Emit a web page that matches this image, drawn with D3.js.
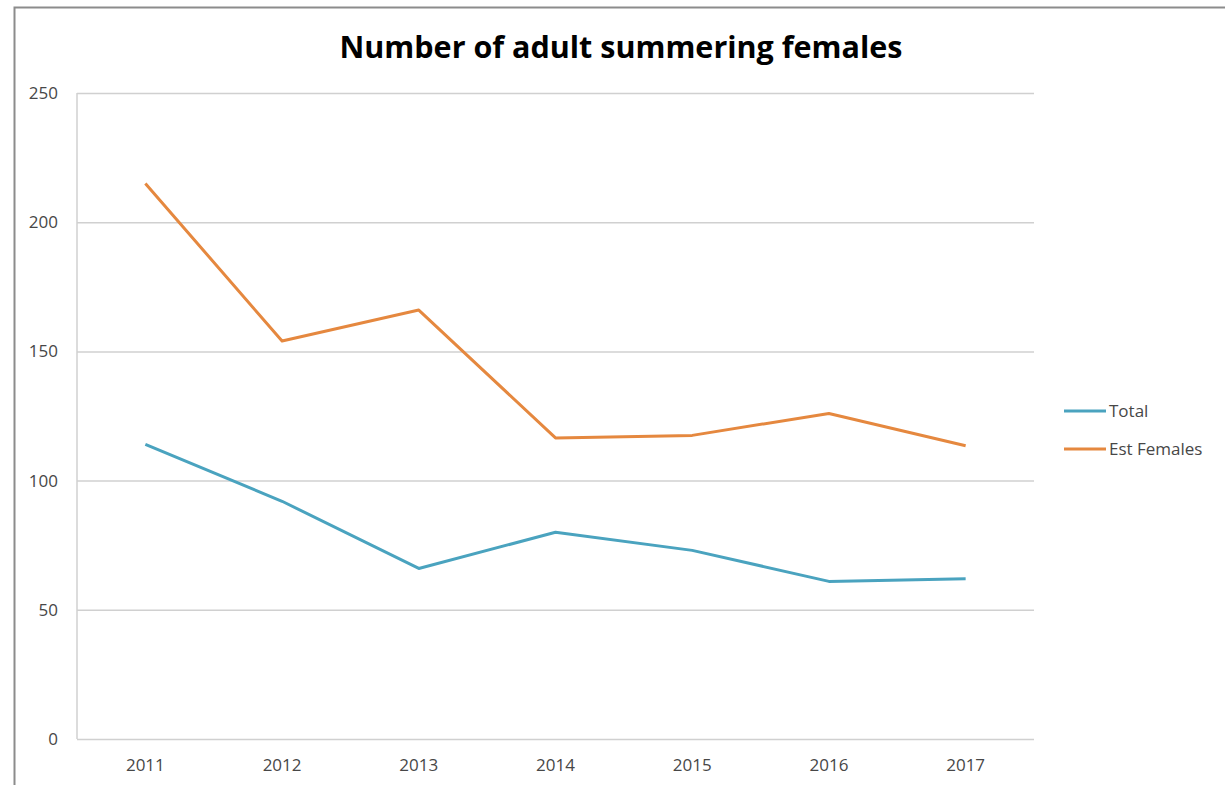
<!DOCTYPE html>
<html>
<head>
<meta charset="utf-8">
<script src="https://cdn.jsdelivr.net/npm/d3@7"></script>
<style>
  body { margin: 0; background: #fff; }
  svg { display: block; }
  text { font-family: "Open Sans", "Noto Sans", sans-serif; }
</style>
</head>
<body>
<div id="chart"></div>
<script>
const years = ['2011', '2012', '2013', '2014', '2015', '2016', '2017'];
const totalValues = [114, 92, 66, 80, 73, 61, 62];
const estFemaleValues = [215, 154, 166, 116.5, 117.5, 126, 113.5];
const yTicks = [0, 50, 100, 150, 200, 250];
const seriesNames = ['Total', 'Est Females'];

const colours = { total: '#4aa3bf', est: '#e5883f', grid: '#d0d0d0', text: '#474747' };

const width = 1225;
const height = 785;
const margin = { top: 93, right: 191, bottom: 46, left: 77 };
const plotW = width - margin.left - margin.right;
const plotH = height - margin.top - margin.bottom;

const svg = d3.select('#chart').append('svg').attr('width', width).attr('height', height);

// chart frame (right and bottom edges are cut off in the screenshot)
svg.append('path')
  .attr('d', `M14.5,${height} V7.5 H${width}`)
  .attr('fill', 'none')
  .attr('stroke', '#8c8c8c')
  .attr('stroke-width', 2);

const title = svg.append('text')
  .attr('x', 621)
  .attr('y', 58)
  .attr('text-anchor', 'middle')
  .attr('font-weight', 'bold')
  .attr('font-size', 30)
  .attr('fill', '#000')
  .text('Number of adult summering females');
const tw = title.node().getComputedTextLength();
title.attr('font-size', 30 * 563 / tw);

const g = svg.append('g').attr('transform', `translate(${margin.left},${margin.top})`);

const x = d3.scaleBand().domain(years).range([0, plotW]);
const y = d3.scaleLinear().domain([0, 250]).range([plotH, 0]);

g.append('g')
  .call(d3.axisLeft(y).tickValues(yTicks).tickSize(-plotW).tickFormat(''))
  .call((s) => s.select('.domain').remove())
  .selectAll('line')
  .attr('stroke', colours.grid)
  .attr('stroke-width', 1.5);

// left axis line
g.append('line')
  .attr('x1', 0).attr('x2', 0)
  .attr('y1', 0).attr('y2', plotH)
  .attr('stroke', colours.grid)
  .attr('stroke-width', 1.5);

g.append('g')
  .call(d3.axisLeft(y).tickValues(yTicks).tickSize(0).tickPadding(19))
  .call((s) => s.select('.domain').remove())
  .selectAll('text')
  .attr('font-size', 17)
  .attr('fill', colours.text);

g.append('g')
  .attr('transform', `translate(0,${plotH})`)
  .call(d3.axisBottom(x).tickSize(0).tickPadding(20))
  .call((s) => s.select('.domain').remove())
  .selectAll('text')
  .attr('font-size', 17)
  .attr('fill', colours.text);

const line = d3.line()
  .x((d, i) => x(years[i]) + x.bandwidth() / 2)
  .y((d) => y(d));

g.append('path')
  .datum(totalValues)
  .attr('fill', 'none')
  .attr('stroke', colours.total)
  .attr('stroke-width', 3)
  .attr('stroke-linejoin', 'round')
  .attr('d', line);

g.append('path')
  .datum(estFemaleValues)
  .attr('fill', 'none')
  .attr('stroke', colours.est)
  .attr('stroke-width', 3)
  .attr('stroke-linejoin', 'round')
  .attr('d', line);

const legend = svg.append('g').attr('transform', 'translate(1064,411)');
const legendColours = [colours.total, colours.est];
seriesNames.forEach((name, i) => {
  const row = legend.append('g').attr('transform', `translate(0,${i * 38})`);
  row.append('line')
    .attr('x1', 0).attr('x2', 42)
    .attr('stroke', legendColours[i])
    .attr('stroke-width', 3);
  row.append('text')
    .attr('x', 45)
    .attr('y', 0)
    .attr('dy', '0.35em')
    .attr('font-size', 17)
    .attr('fill', colours.text)
    .text(name);
});
</script>
</body>
</html>
